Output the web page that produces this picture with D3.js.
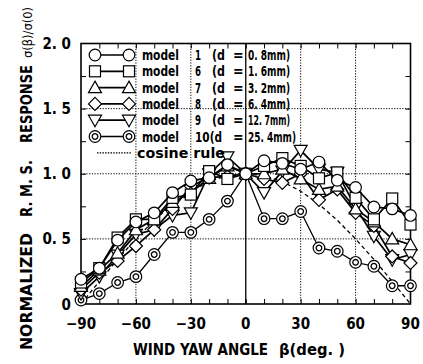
<!DOCTYPE html>
<html>
<head>
<meta charset="utf-8">
<script src="https://cdn.jsdelivr.net/npm/d3@7"></script>
<style>
  body { margin: 0; background: #fff; }
  svg { display: block; }
  .tick-label { font-family: "DejaVu Sans Condensed", "DejaVu Sans", sans-serif; font-weight: bold; font-size: 15px; fill: #000; }
  .title { font-family: "DejaVu Sans Condensed", "DejaVu Sans", sans-serif; font-weight: bold; font-size: 15px; fill: #000; }
  .legend-text { font-family: "DejaVu Sans Condensed", "DejaVu Sans", sans-serif; font-weight: bold; font-size: 14px; fill: #000; }
</style>
</head>
<body>
<div id="chart"></div>
<script>
// yaw angles (deg)
const angles = [-90, -80, -70, -60, -50, -40, -30, -20, -10, 0, 10, 20, 30, 40, 50, 60, 70, 80, 90];

// normalized r.m.s. response
const model1 = [0.19, 0.275, 0.49, 0.63, 0.70, 0.855, 0.945, 0.97, 1.07, 1.0, 1.10, 1.08, 1.035, 1.09, 0.95, 0.895, 0.745, 0.73, 0.68];
const model6 = [0.165, 0.275, 0.51, 0.65, 0.65, 0.815, 0.84, 1.02, 0.96, 1.0, 1.06, 1.12, 1.06, 0.965, 1.01, 0.815, 0.65, 0.81, 0.61];
const model7 = [0.135, 0.26, 0.39, 0.57, 0.65, 0.78, 0.855, 0.965, 1.06, 1.0, 1.0, 1.035, 0.96, 0.88, 0.905, 0.73, 0.63, 0.50, 0.455];
const model8 = [0.11, 0.24, 0.33, 0.445, 0.57, 0.73, 0.905, 0.97, 0.98, 1.0, 0.96, 0.93, 1.0, 0.80, 0.88, 0.70, 0.60, 0.365, 0.315];
const model9 = [0.08, 0.21, 0.375, 0.535, 0.57, 0.68, 0.70, 1.0, 1.13, 1.0, 0.855, 1.02, 1.18, 1.035, 1.01, 0.74, 0.52, 0.34, 0.38];
const model10 = [0.03, 0.08, 0.165, 0.21, 0.38, 0.55, 0.55, 0.65, 0.79, 1.0, 0.655, 0.655, 0.71, 0.43, 0.405, 0.32, 0.29, 0.14, 0.14];
const cosineRule = [0, 0.174, 0.342, 0.5, 0.643, 0.766, 0.866, 0.940, 0.985, 1.0, 0.985, 0.940, 0.866, 0.766, 0.643, 0.5, 0.342, 0.174, 0];

const modelNames = ["1", "6", "7", "8", "9", "10"];
const diameters = ["0. 8mm)", "1. 6mm)", "3. 2mm)", "6. 4mm)", "12. 7mm)", "25. 4mm)"];
const markerKinds = ["circle", "square", "triangle", "diamond", "triangleDown", "doubleCircle"];
const seriesValues = [model1, model6, model7, model8, model9, model10];

const xTicks = [-90, -60, -30, 0, 30, 60, 90];
const yTicks = [0, 0.5, 1.0, 1.5, 2.0];
const yTickLabels = ["0", "0. 5", "1. 0", "1. 5", "2. 0"];

const width = 423, height = 364;
const margin = { top: 43.5, right: 12.5, bottom: 60, left: 81 };
const innerW = width - margin.left - margin.right;
const innerH = height - margin.top - margin.bottom;

const x = d3.scaleLinear().domain([-90, 90]).range([0, innerW]);
const y = d3.scaleLinear().domain([0, 2]).range([innerH, 0]);

const svg = d3.select("#chart").append("svg")
  .attr("width", width).attr("height", height);

const g = svg.append("g").attr("transform", `translate(${margin.left},${margin.top})`);

// dotted grid
g.selectAll(".vgrid").data([-60, -30, 30, 60]).join("line")
  .attr("x1", d => x(d)).attr("x2", d => x(d))
  .attr("y1", 0).attr("y2", innerH)
  .attr("stroke", "#000").attr("stroke-width", 1).attr("stroke-dasharray", "1.2,1.5");
g.selectAll(".hgrid").data([0.5, 1.0, 1.5]).join("line")
  .attr("x1", 0).attr("x2", innerW)
  .attr("y1", d => y(d)).attr("y2", d => y(d))
  .attr("stroke", "#000").attr("stroke-width", 1).attr("stroke-dasharray", "1.2,1.5");
// solid zero line
g.append("line")
  .attr("x1", x(0)).attr("x2", x(0)).attr("y1", 0).attr("y2", innerH)
  .attr("stroke", "#000").attr("stroke-width", 1.3);

// inward ticks on all sides
const xMinor = d3.range(-80, 90, 10);
const yMinor = d3.range(0.25, 2, 0.25);
g.append("g").attr("transform", `translate(0,${innerH})`)
  .call(d3.axisBottom(x).tickValues(xMinor).tickSize(-5).tickFormat(""))
  .call(a => a.select(".domain").remove());
g.append("g")
  .call(d3.axisTop(x).tickValues(xMinor).tickSize(-5).tickFormat(""))
  .call(a => a.select(".domain").remove());
g.append("g")
  .call(d3.axisLeft(y).tickValues(yMinor).tickSize(-5).tickFormat(""))
  .call(a => a.select(".domain").remove());
g.append("g").attr("transform", `translate(${innerW},0)`)
  .call(d3.axisRight(y).tickValues(yMinor).tickSize(-5).tickFormat(""))
  .call(a => a.select(".domain").remove());

// frame
g.append("rect").attr("width", innerW).attr("height", innerH)
  .attr("fill", "none").attr("stroke", "#000").attr("stroke-width", 1.6);

// tick labels
g.selectAll(".xl").data(xTicks).join("text")
  .attr("class", "tick-label")
  .attr("x", d => x(d)).attr("y", innerH + 25)
  .attr("text-anchor", "middle")
  .text(d => d < 0 ? "\u2212" + Math.abs(d) : d);
g.selectAll(".yl").data(yTicks).join("text")
  .attr("class", "tick-label")
  .attr("x", -10).attr("y", d => y(d) + 5.5)
  .attr("text-anchor", "end")
  .text((d, i) => yTickLabels[i]);

// axis titles (narrow gothic in the original: squeeze to measured widths)
function fitText(sel, txt, len) {
  return sel.text(txt).attr("textLength", len).attr("lengthAdjust", "spacingAndGlyphs");
}
fitText(svg.append("text").attr("class", "title").attr("x", 133).attr("y", 355), "WIND YAW ANGLE", 135);
fitText(svg.append("text").attr("class", "title").attr("x", 279).attr("y", 355), "\u03b2(deg. )", 66);

const yTitleParts = [
  { t: "NORMALIZED", start: 350, len: 117 },
  { t: "R. M. S.", start: 217, len: 57 },
  { t: "RESPONSE", start: 143, len: 78 },
  { t: "\u03c3(\u03b2)/\u03c3(0)", start: 58, len: 51 }
];
yTitleParts.forEach(p => {
  const sigma = p.t.startsWith("\u03c3");
  const t = svg.append("text").attr("class", "title")
    .attr("transform", `translate(32,${p.start}) rotate(-90)`)
    .style("font-weight", sigma ? "normal" : "bold")
    .style("font-size", sigma ? "12px" : null);
  fitText(t, p.t, p.len);
});

// markers
function drawMarker(sel, kind, cx, cy) {
  const m = sel.append("g").attr("transform", `translate(${cx},${cy})`);
  const st = e => e.attr("fill", "#fff").attr("stroke", "#000").attr("stroke-width", 1.2);
  if (kind === "circle") st(m.append("circle").attr("r", 5.8));
  else if (kind === "square") st(m.append("rect").attr("x", -5.5).attr("y", -5.5).attr("width", 11).attr("height", 11));
  else if (kind === "triangle") st(m.append("path").attr("d", "M0,-6.5L6.5,5L-6.5,5Z"));
  else if (kind === "triangleDown") st(m.append("path").attr("d", "M0,6.5L6.5,-5L-6.5,-5Z"));
  else if (kind === "diamond") st(m.append("path").attr("d", "M0,-6.5L6.5,0L0,6.5L-6.5,0Z"));
  else if (kind === "doubleCircle") {
    st(m.append("circle").attr("r", 5.8));
    m.append("circle").attr("r", 2.8).attr("fill", "none").attr("stroke", "#000").attr("stroke-width", 1.3);
  }
}

const line = d3.line().x(d => x(d[0])).y(d => y(d[1]));

// cosine rule
g.append("path")
  .datum(angles.map((a, i) => [a, cosineRule[i]]))
  .attr("d", line)
  .attr("fill", "none").attr("stroke", "#000").attr("stroke-width", 1.3)
  .attr("stroke-dasharray", "4,3");

// series, model 10 drawn first
for (let s = seriesValues.length - 1; s >= 0; s--) {
  const pts = angles.map((a, i) => [a, seriesValues[s][i]]);
  g.append("path").datum(pts).attr("d", line)
    .attr("fill", "none").attr("stroke", "#000")
    .attr("stroke-width", s === 5 ? 1.3 : 1.7);
  const mg = g.append("g");
  pts.forEach(p => drawMarker(mg, markerKinds[s], x(p[0]), y(p[1])));
}

// legend
const legend = svg.append("g");
const rowY = d3.range(7).map(i => 55 + i * 16.3);
modelNames.forEach((name, i) => {
  const yy = rowY[i];
  legend.append("line").attr("x1", 95).attr("x2", 129).attr("y1", yy).attr("y2", yy)
    .attr("stroke", "#000").attr("stroke-width", 1.7);
  drawMarker(legend, markerKinds[i], 95, yy);
  drawMarker(legend, markerKinds[i], 129, yy);
  const ty = yy + 5;
  fitText(legend.append("text").attr("class", "legend-text").attr("x", 142).attr("y", ty), "model", 37);
  if (name.length > 1) {
    fitText(legend.append("text").attr("class", "legend-text").attr("x", 195).attr("y", ty), name + "(d", 27);
  } else {
    fitText(legend.append("text").attr("class", "legend-text").attr("x", 195).attr("y", ty), name, 6);
    fitText(legend.append("text").attr("class", "legend-text").attr("x", 212).attr("y", ty), "(d", 13);
  }
  legend.append("text").attr("class", "legend-text").attr("x", 233).attr("y", ty).text("=");
  fitText(legend.append("text").attr("class", "legend-text").attr("x", 248).attr("y", ty), diameters[i], name.length > 1 ? 48 : 42);
});
legend.append("line").attr("x1", 97).attr("x2", 131).attr("y1", rowY[6]).attr("y2", rowY[6])
  .attr("stroke", "#000").attr("stroke-width", 1.3).attr("stroke-dasharray", "1.5,1.2");
fitText(legend.append("text").attr("class", "legend-text").attr("x", 137).attr("y", rowY[6] + 5), "cosine rule", 88);
</script>
</body>
</html>
